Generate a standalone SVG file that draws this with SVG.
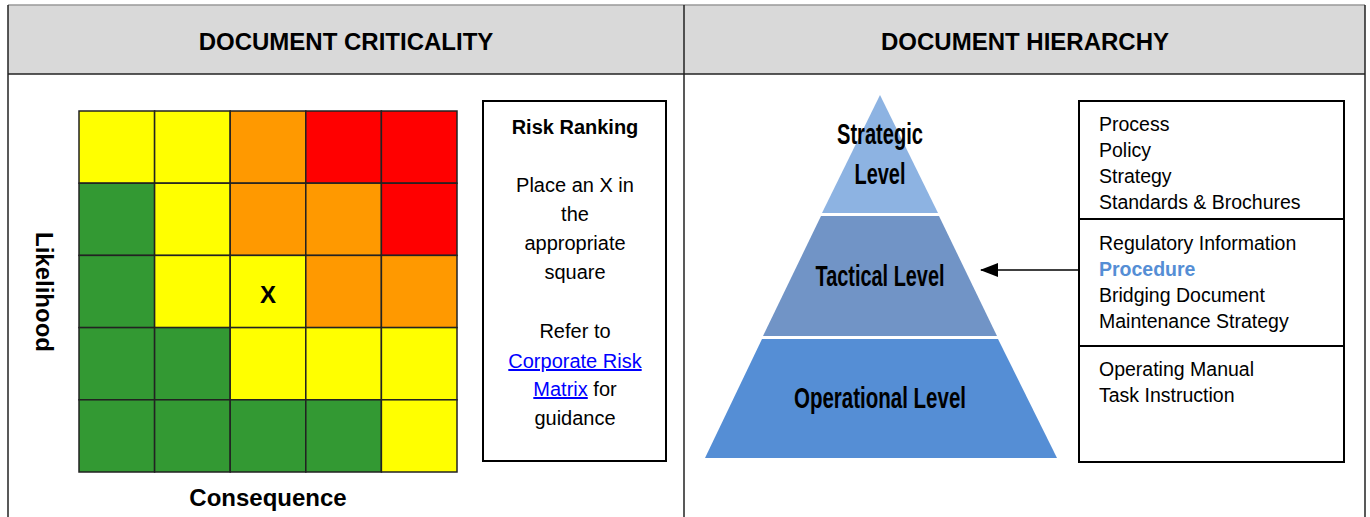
<svg xmlns="http://www.w3.org/2000/svg" width="1370" height="517" viewBox="0 0 1370 517">
<style>
.hdr{font-family:"Liberation Sans",Arial,sans-serif;font-weight:bold;font-size:24px;fill:#000;text-anchor:middle}
.b24{font-family:"Liberation Sans",Arial,sans-serif;font-weight:bold;font-size:24px;fill:#000;text-anchor:middle}
.t20{font-family:"Liberation Sans",Arial,sans-serif;font-size:20px;fill:#000;text-anchor:middle}
.lnk{fill:#0000ff;text-decoration:underline}
.lvl{font-family:"Liberation Sans",Arial,sans-serif;font-weight:bold;font-size:30px;fill:#000;text-anchor:middle}
.li{font-family:"Liberation Sans",Arial,sans-serif;font-size:19.5px;fill:#000}
.hi{font-weight:bold;fill:#558ed5}
.cell{stroke:#222;stroke-width:1.5}
.Y{fill:#ffff00}.O{fill:#ff9900}.R{fill:#ff0000}.G{fill:#339933}
.box{fill:#fff;stroke:#000;stroke-width:2}
</style>
<defs>
<marker id="ah" markerWidth="18" markerHeight="14" refX="17" refY="7" orient="auto" markerUnits="userSpaceOnUse">
<path d="M0,0 L18,7 L0,14 Z" fill="#000"/>
</marker>
</defs>
<rect width="1370" height="517" fill="#fff"/>
<g id="table">
<rect x="8" y="5" width="1357" height="69" fill="#d9d9d9"/>
<line x1="8" y1="5" x2="1365" y2="5" stroke="#999" stroke-width="1.5"/>
<line x1="8" y1="74" x2="1365" y2="74" stroke="#222" stroke-width="1.5"/>
<line x1="8" y1="5" x2="8" y2="517" stroke="#222" stroke-width="1.5"/>
<line x1="684" y1="5" x2="684" y2="517" stroke="#222" stroke-width="1.5"/>
<line x1="1365" y1="5" x2="1365" y2="517" stroke="#222" stroke-width="1.5"/>
<text class="hdr" x="346" y="50">DOCUMENT CRITICALITY</text>
<text class="hdr" x="1025" y="50">DOCUMENT HIERARCHY</text>
</g>
<g id="matrix">
<rect class="cell Y" x="79" y="111" width="75.6" height="72.2"/>
<rect class="cell Y" x="154.6" y="111" width="75.6" height="72.2"/>
<rect class="cell O" x="230.2" y="111" width="75.6" height="72.2"/>
<rect class="cell R" x="305.8" y="111" width="75.6" height="72.2"/>
<rect class="cell R" x="381.4" y="111" width="75.6" height="72.2"/>
<rect class="cell G" x="79" y="183.2" width="75.6" height="72.2"/>
<rect class="cell Y" x="154.6" y="183.2" width="75.6" height="72.2"/>
<rect class="cell O" x="230.2" y="183.2" width="75.6" height="72.2"/>
<rect class="cell O" x="305.8" y="183.2" width="75.6" height="72.2"/>
<rect class="cell R" x="381.4" y="183.2" width="75.6" height="72.2"/>
<rect class="cell G" x="79" y="255.4" width="75.6" height="72.2"/>
<rect class="cell Y" x="154.6" y="255.4" width="75.6" height="72.2"/>
<rect class="cell Y" x="230.2" y="255.4" width="75.6" height="72.2"/>
<rect class="cell O" x="305.8" y="255.4" width="75.6" height="72.2"/>
<rect class="cell O" x="381.4" y="255.4" width="75.6" height="72.2"/>
<rect class="cell G" x="79" y="327.6" width="75.6" height="72.2"/>
<rect class="cell G" x="154.6" y="327.6" width="75.6" height="72.2"/>
<rect class="cell Y" x="230.2" y="327.6" width="75.6" height="72.2"/>
<rect class="cell Y" x="305.8" y="327.6" width="75.6" height="72.2"/>
<rect class="cell Y" x="381.4" y="327.6" width="75.6" height="72.2"/>
<rect class="cell G" x="79" y="399.8" width="75.6" height="72.2"/>
<rect class="cell G" x="154.6" y="399.8" width="75.6" height="72.2"/>
<rect class="cell G" x="230.2" y="399.8" width="75.6" height="72.2"/>
<rect class="cell G" x="305.8" y="399.8" width="75.6" height="72.2"/>
<rect class="cell Y" x="381.4" y="399.8" width="75.6" height="72.2"/>
<text class="b24" x="268" y="303">X</text>
<text class="b24" transform="translate(36,292) rotate(90)">Likelihood</text>
<text class="b24" x="268" y="506">Consequence</text>
</g>
<g id="risk-ranking">
<rect class="box" x="483" y="101" width="183" height="360"/>
<text class="t20" x="575" y="134" font-weight="bold">Risk Ranking</text>
<text class="t20" x="575" y="192">Place an X in</text>
<text class="t20" x="575" y="221">the</text>
<text class="t20" x="575" y="250">appropriate</text>
<text class="t20" x="575" y="279">square</text>
<text class="t20" x="575" y="338">Refer to</text>
<text class="t20 lnk" x="575" y="368">Corporate Risk</text>
<text class="t20" x="575" y="396"><tspan class="lnk">Matrix</tspan> for</text>
<text class="t20" x="575" y="425">guidance</text>
</g>
<g id="pyramid">
<polygon points="880,95 938,213 822,213" fill="#8db3e2"/>
<polygon points="821,216 939,216 997,336 763,336" fill="#7194c6"/>
<polygon points="762,339 998,339 1057,458 705,458" fill="#558ed5"/>
<text class="lvl" x="880" y="144" textLength="86" lengthAdjust="spacingAndGlyphs">Strategic</text>
<text class="lvl" x="880" y="184" textLength="51" lengthAdjust="spacingAndGlyphs">Level</text>
<text class="lvl" x="880" y="286" textLength="129" lengthAdjust="spacingAndGlyphs">Tactical Level</text>
<text class="lvl" x="880" y="408" textLength="172" lengthAdjust="spacingAndGlyphs">Operational Level</text>
</g>
<g id="doc-list">
<rect class="box" x="1079" y="101" width="265" height="361"/>
<line x1="1079" y1="219" x2="1344" y2="219" stroke="#000" stroke-width="2"/>
<line x1="1079" y1="346" x2="1344" y2="346" stroke="#000" stroke-width="2"/>
<text class="li" x="1099" y="131">Process</text>
<text class="li" x="1099" y="157">Policy</text>
<text class="li" x="1099" y="183">Strategy</text>
<text class="li" x="1099" y="209">Standards &amp; Brochures</text>
<text class="li" x="1099" y="250">Regulatory Information</text>
<text class="li hi" x="1099" y="276">Procedure</text>
<text class="li" x="1099" y="302">Bridging Document</text>
<text class="li" x="1099" y="328">Maintenance Strategy</text>
<text class="li" x="1099" y="376">Operating Manual</text>
<text class="li" x="1099" y="402">Task Instruction</text>
</g>
<g id="connectors">
<line x1="1079" y1="270" x2="981" y2="270" stroke="#000" stroke-width="1.5" marker-end="url(#ah)"/>
</g>
</svg>
